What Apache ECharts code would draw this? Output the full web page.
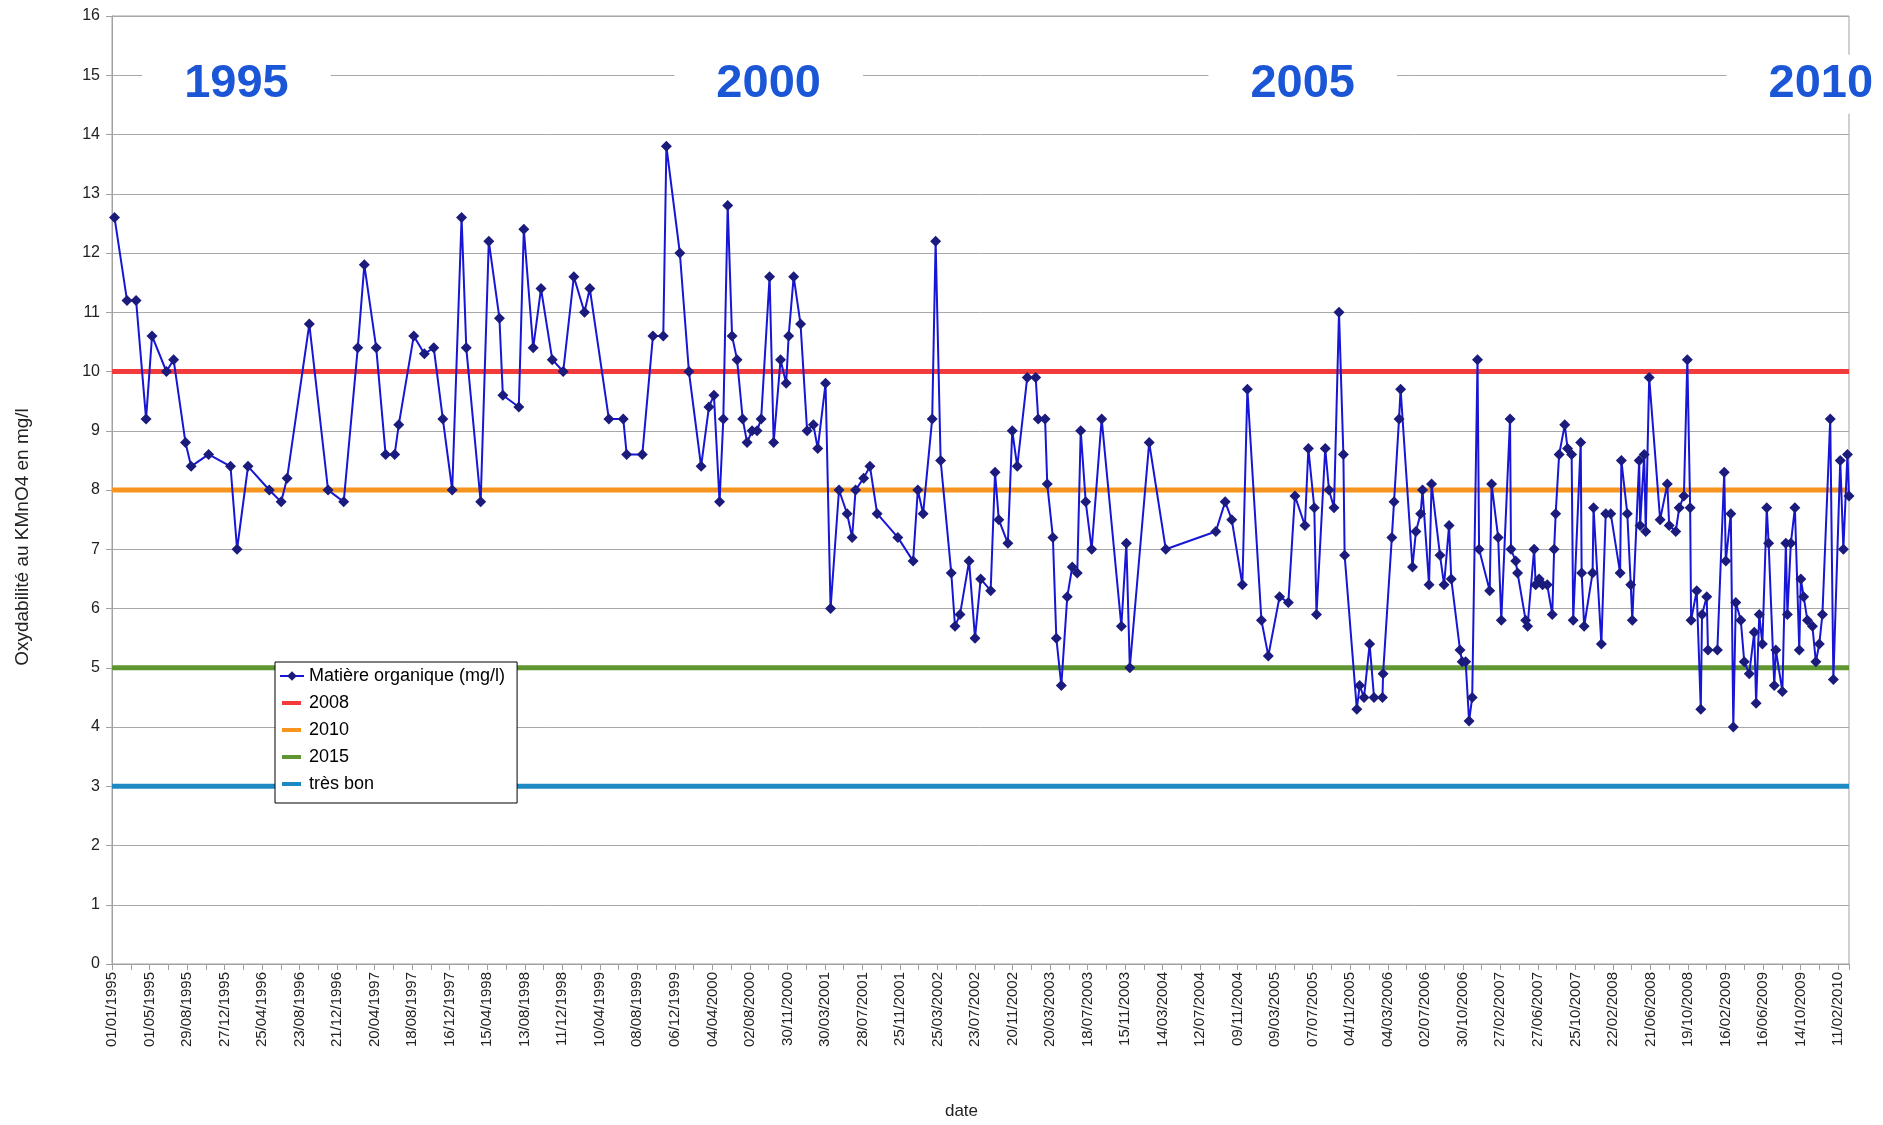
<!DOCTYPE html>
<html>
<head>
<meta charset="utf-8">
<title>Oxydabilité au KMnO4</title>
<script src="https://cdn.jsdelivr.net/npm/echarts@6/dist/echarts.min.js"></script>
<style>
    html, body { margin: 0; padding: 0; background: #fff; }
    #main { width: 1883px; height: 1125px; }
</style>
</head>
<body>
<div id="main"></div>
<script>
// jours depuis le 01/01/1995 et valeurs mesurées (mg/l), par période
var days1 = [
    8, 48, 77, 109, 128, 174, 197, 235, 253, 309,
    379, 400, 435, 503, 541, 560, 631, 691, 741, 786,
    807, 845, 875, 904, 917, 965, 999, 1029, 1058, 1088,
    1118, 1133, 1179, 1205, 1239, 1250, 1301, 1317, 1347, 1372,
    1408
];
var values1 = [
    12.6, 11.2, 11.2, 9.2, 10.6, 10.0, 10.2, 8.8, 8.4, 8.6,
    8.4, 7.0, 8.4, 8.0, 7.8, 8.2, 10.8, 8.0, 7.8, 10.4,
    11.8, 10.4, 8.6, 8.6, 9.1, 10.6, 10.3, 10.4, 9.2, 8.0,
    12.6, 10.4, 7.8, 12.2, 10.9, 9.6, 9.4, 12.4, 10.4, 11.4,
    10.2
];
var days2 = [
    1443, 1477, 1511, 1528, 1589, 1635, 1646, 1696, 1730, 1763,
    1773, 1816, 1845, 1884, 1909, 1925, 1943, 1955, 1969, 1983,
    1999, 2017, 2031, 2047, 2063, 2076, 2103, 2116, 2138, 2156,
    2164, 2180, 2202, 2223, 2243, 2257, 2282, 2298, 2325, 2351,
    2367, 2378, 2404, 2424, 2447, 2513, 2562, 2577, 2594, 2623,
    2634, 2650, 2684, 2696, 2712, 2741, 2760, 2778
];
var values2 = [
    10.0, 11.6, 11.0, 11.4, 9.2, 9.2, 8.6, 8.6, 10.6, 10.6,
    13.8, 12.0, 10.0, 8.4, 9.4, 9.6, 7.8, 9.2, 12.8, 10.6,
    10.2, 9.2, 8.8, 9.0, 9.0, 9.2, 11.6, 8.8, 10.2, 9.8,
    10.6, 11.6, 10.8, 9.0, 9.1, 8.7, 9.8, 6.0, 8.0, 7.6,
    7.2, 8.0, 8.2, 8.4, 7.6, 7.2, 6.8, 8.0, 7.6, 9.2,
    12.2, 8.5, 6.6, 5.7, 5.9, 6.8, 5.5, 6.5
];
var days3 = [
    2810, 2824, 2836, 2865, 2879, 2895, 2927, 2954, 2962, 2984,
    2991, 3009, 3020, 3036, 3055, 3071, 3087, 3098, 3114, 3133,
    3165, 3228, 3244, 3255, 3317, 3370, 3530, 3560, 3581, 3615,
    3631, 3676, 3698, 3734, 3762, 3783, 3815, 3826, 3845, 3852,
    3880, 3892, 3908, 3924, 3938, 3942, 3981, 3990, 4004, 4022,
    4036, 4063, 4065, 4093, 4100, 4116, 4121, 4159
];
var values3 = [
    6.3, 8.3, 7.5, 7.1, 9.0, 8.4, 9.9, 9.9, 9.2, 9.2,
    8.1, 7.2, 5.5, 4.7, 6.2, 6.7, 6.6, 9.0, 7.8, 7.0,
    9.2, 5.7, 7.1, 5.0, 8.8, 7.0, 7.3, 7.8, 7.5, 6.4,
    9.7, 5.8, 5.2, 6.2, 6.1, 7.9, 7.4, 8.7, 7.7, 5.9,
    8.7, 8.0, 7.7, 11.0, 8.6, 6.9, 4.3, 4.7, 4.5, 5.4,
    4.5, 4.5, 4.9, 7.2, 7.8, 9.2, 9.7, 6.7
];
var days4 = [
    4170, 4185, 4191, 4212, 4220, 4247, 4260, 4276, 4283, 4311,
    4318, 4329, 4340, 4350, 4367, 4372, 4406, 4412, 4433, 4443,
    4471, 4474, 4489, 4495, 4521, 4527, 4548, 4553, 4564, 4575,
    4590, 4606, 4612, 4617, 4628, 4646, 4655, 4668, 4673, 4697,
    4700, 4708, 4735, 4738, 4763, 4777, 4793, 4823, 4827, 4846,
    4857, 4862, 4884, 4887, 4900, 4905, 4916, 4951, 4974, 4980,
    5001, 5012, 5027, 5038, 5047, 5050, 5068, 5081, 5085, 5100,
    5104, 5134, 5156, 5161, 5177, 5185, 5193, 5209, 5220, 5236,
    5252, 5258, 5268, 5278, 5292, 5298, 5316, 5321, 5342, 5353,
    5358, 5369, 5382, 5396, 5401, 5410, 5422, 5438, 5449, 5460,
    5470, 5495, 5505, 5527, 5537, 5550, 5555
];
var values4 = [
    7.3, 7.6, 8.0, 6.4, 8.1, 6.9, 6.4, 7.4, 6.5, 5.3,
    5.1, 5.1, 4.1, 4.5, 10.2, 7.0, 6.3, 8.1, 7.2, 5.8,
    9.2, 7.0, 6.8, 6.6, 5.8, 5.7, 7.0, 6.4, 6.5, 6.4,
    6.4, 5.9, 7.0, 7.6, 8.6, 9.1, 8.7, 8.6, 5.8, 8.8,
    6.6, 5.7, 6.6, 7.7, 5.4, 7.6, 7.6, 6.6, 8.5, 7.6,
    6.4, 5.8, 8.5, 7.4, 8.6, 7.3, 9.9, 7.5, 8.1, 7.4,
    7.3, 7.7, 7.9, 10.2, 7.7, 5.8, 6.3, 4.3, 5.9, 6.2,
    5.3, 5.3, 8.3, 6.8, 7.6, 4.0, 6.1, 5.8, 5.1, 4.9,
    5.6, 4.4, 5.9, 5.4, 7.7, 7.1, 4.7, 5.3, 4.6, 7.1,
    5.9, 7.1, 7.7, 5.3, 6.5, 6.2, 5.8, 5.7, 5.1, 5.4,
    5.9, 9.2, 4.8, 8.5, 7.0, 8.6, 7.9
];

// seuils
var thresholdNames = ['2008', '2010', '2015', 'très bon'];
var thresholdValues = [10, 8, 5, 3];

// repères des années (position en jours, sur la ligne 15)
var yearLabels = ['1995', '2000', '2005', '2010'];
var yearDays = [398, 2100, 3808, 5465];
var yearLevel = 15;

var seriesName = 'Matière organique (mg/l)';
var thresholdColors = ['#f23b3b', '#f7941e', '#5f9632', '#1e8ac4'];
var FONT = '"Liberation Sans", Arial, sans-serif';
var X_MAX = 5555;
// petit trait épais pour la légende des seuils (les coins fixent la boîte 24x12)
var BAR_ICON = 'path://M0,0h0.01v0.01h-0.01z M2,4h19v4h-19z M23.99,11.99h0.01v0.01h-0.01z';

function dayLabel(d) {
    var t = new Date(Date.UTC(1995, 0, 1) + d * 86400000);
    var dd = ('0' + t.getUTCDate()).slice(-2);
    var mm = ('0' + (t.getUTCMonth() + 1)).slice(-2);
    return dd + '/' + mm + '/' + t.getUTCFullYear();
}

var allDays = days1.concat(days2, days3, days4);
var allValues = values1.concat(values2, values3, values4);
var measures = allDays.map(function (d, i) { return [d, allValues[i]]; });

var myChart = echarts.init(document.getElementById('main'));

var series = [];
thresholdNames.forEach(function (name, i) {
    series.push({
        name: name,
        type: 'line',
        data: [[0, thresholdValues[i]], [X_MAX, thresholdValues[i]]],
        symbol: 'none',
        z: 2,
        lineStyle: { color: thresholdColors[i], width: 5 },
        itemStyle: { color: thresholdColors[i] }
    });
});
series.push({
    name: seriesName,
    type: 'line',
    data: measures,
    symbol: 'diamond',
    symbolSize: 11,
    z: 3,
    lineStyle: { color: '#1616d4', width: 2 },
    itemStyle: { color: '#1b1b7d' }
});
// les années en gros, posées sur la ligne 15
series.push({
    name: 'annees',
    type: 'scatter',
    silent: true,
    z: 5,
    symbolSize: 1,
    itemStyle: { color: 'rgba(0,0,0,0)', opacity: 1 },
    data: yearDays.map(function (d, i) { return [d, yearLevel, yearLabels[i]]; }),
    label: {
        show: true,
        position: 'inside',
        offset: [0, 9],
        formatter: function (p) { return p.data[2]; },
        fontFamily: FONT,
        fontSize: 47,
        fontWeight: 'bold',
        color: '#1a56d6',
        opacity: 1,
        backgroundColor: '#fff',
        padding: [6, 42]
    }
});

var legendData = [{ name: seriesName }].concat(thresholdNames.map(function (n) {
    return { name: n, icon: BAR_ICON };
}));

var option = {
    animation: false,
    backgroundColor: '#fff',
    textStyle: { fontFamily: FONT },
    grid: {
        left: 112, right: 34, top: 16, bottom: 158,
        show: true, borderColor: '#a0a0a0', borderWidth: 1,
        backgroundColor: 'transparent'
    },
    legend: {
        orient: 'vertical',
        left: 275,
        top: 662,
        data: legendData,
        backgroundColor: '#fff',
        borderColor: '#000',
        borderWidth: 1,
        borderRadius: 0,
        padding: [5, 12, 10, 4],
        itemWidth: 24,
        itemHeight: 12,
        itemGap: 9,
        textStyle: { fontFamily: FONT, fontSize: 18, color: '#000' }
    },
    xAxis: {
        type: 'value',
        min: 0,
        max: X_MAX,
        interval: 120,
        name: 'date',
        nameLocation: 'middle',
        nameGap: 139,
        nameTextStyle: { fontFamily: FONT, fontSize: 17, color: '#222', padding: [0, 38, 0, 0] },
        axisLine: { lineStyle: { color: '#a0a0a0' } },
        axisTick: { length: 6, lineStyle: { color: '#a0a0a0' } },
        minorTick: { show: true, splitNumber: 2, length: 6, lineStyle: { color: '#a0a0a0' } },
        splitLine: { show: false },
        axisLabel: {
            rotate: 90,
            margin: 8,
            fontFamily: FONT,
            fontSize: 15,
            color: '#222',
            showMaxLabel: false,
            formatter: function (v) { return v % 120 === 0 ? dayLabel(v) : ''; }
        }
    },
    yAxis: {
        type: 'value',
        min: 0,
        max: 16,
        interval: 1,
        axisLine: { show: true, lineStyle: { color: '#a0a0a0' } },
        axisTick: { show: true, length: 6, lineStyle: { color: '#a0a0a0' } },
        splitLine: { lineStyle: { color: '#a8a8a8', width: 1 } },
        axisLabel: { margin: 12, fontFamily: FONT, fontSize: 16, color: '#222' }
    },
    graphic: [{
        type: 'text',
        x: 23,
        y: 537,
        rotation: Math.PI / 2,
        style: {
            text: 'Oxydabilité au KMnO4 en mg/l',
            fontFamily: FONT,
            fontSize: 19,
            fill: '#222',
            align: 'center',
            verticalAlign: 'middle'
        }
    }],
    series: series
};

myChart.setOption(option);
</script>
</body>
</html>
